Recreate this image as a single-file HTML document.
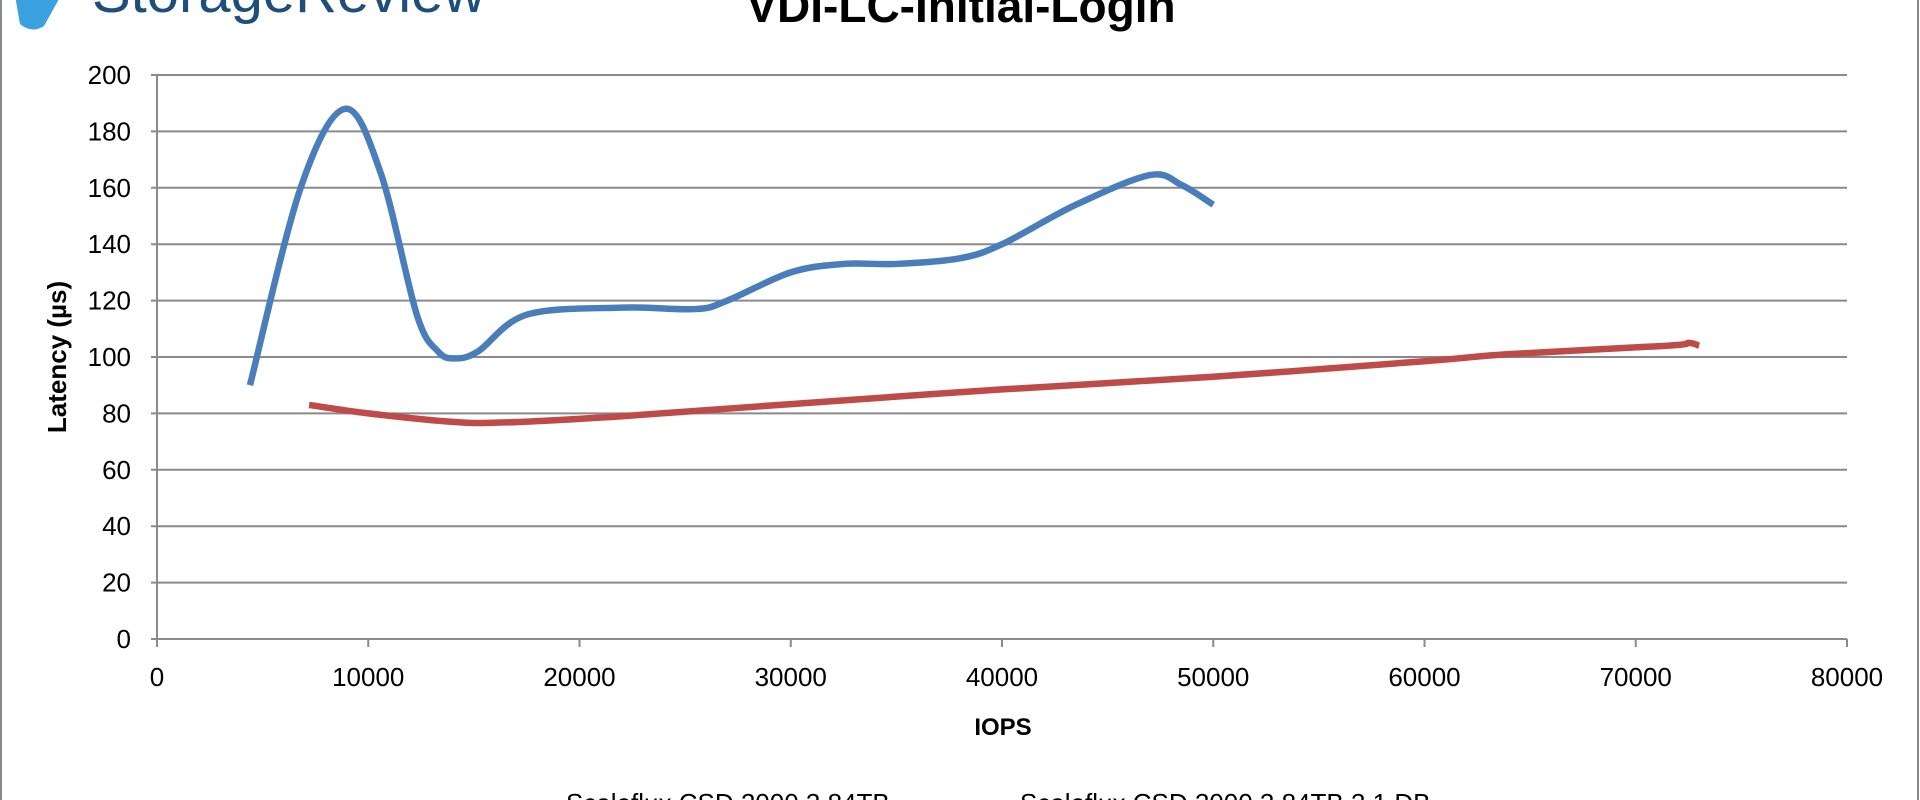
<!DOCTYPE html>
<html><head><meta charset="utf-8"><style>
html,body{margin:0;padding:0;background:#fff;width:1920px;height:800px;overflow:hidden}
svg text{font-family:"Liberation Sans",sans-serif}
</style></head><body>
<svg id="s" width="1920" height="800" xmlns="http://www.w3.org/2000/svg">
<rect x="1" y="-5" width="1917" height="810" fill="#fff" stroke="#888" stroke-width="2"/>
<g id="grid"></g>
<text x="961" y="22" text-anchor="middle" font-size="46" font-weight="bold">VDI-LC-Initial-Login</text>
<text x="92" y="12" font-size="58" fill="#1d4f7a">StorageReview</text>
<path d="M14 -10 L64 -10 L44 26 Q32 34 20 24 Z" fill="#3aa0e0"/>
<text x="1003" y="735" text-anchor="middle" font-size="24" font-weight="bold">IOPS</text>
<text transform="translate(66,357) rotate(-90)" text-anchor="middle" font-size="26" font-weight="bold">Latency (µs)</text>
<text x="566" y="812" font-size="26">Scaleflux CSD 2000 3.84TB</text>
<text x="1020" y="812" font-size="26">Scaleflux CSD 2000 3.84TB 3.1 DB</text>
<path id="b" fill="none" stroke="#4a7ebb" stroke-width="6.5" stroke-linejoin="round"/>
<path id="r" fill="none" stroke="#be4b48" stroke-width="6.5" stroke-linejoin="round"/>
</svg>
<script>
var L=157,R=1847,T=75,B=639;
function X(v){return L+v/80000*(R-L)}function Y(v){return B-v/200*(B-T)}
var g='';
for(var i=0;i<=10;i++){var y=Y(i*20);g+='<line x1="'+(L-6)+'" y1="'+y+'" x2="'+R+'" y2="'+y+'" stroke="#8a8a8a" stroke-width="2"/>';
g+='<text x="'+(L-26)+'" y="'+(y+9)+'" text-anchor="end" font-size="26">'+(i*20)+'</text>';}
g+='<line x1="'+L+'" y1="'+T+'" x2="'+L+'" y2="'+B+'" stroke="#8a8a8a" stroke-width="2"/>';
for(var i=0;i<=8;i++){var x=X(i*10000);g+='<line x1="'+x+'" y1="'+B+'" x2="'+x+'" y2="'+(B+8)+'" stroke="#8a8a8a" stroke-width="2"/>';
g+='<text x="'+x+'" y="'+(B+47)+'" text-anchor="middle" font-size="26">'+(i*10000)+'</text>';}
document.getElementById('grid').innerHTML=g;
function cr(p){var q=p.map(function(a){return[X(a[0]),Y(a[1])]});var d='M'+q[0][0]+' '+q[0][1];
for(var i=0;i<q.length-1;i++){var p0=q[i-1]||q[i],p1=q[i],p2=q[i+1],p3=q[i+2]||p2;
d+=' C'+(p1[0]+(p2[0]-p0[0])/6)+' '+(p1[1]+(p2[1]-p0[1])/6)+' '+(p2[0]-(p3[0]-p1[0])/6)+' '+(p2[1]-(p3[1]-p1[1])/6)+' '+p2[0]+' '+p2[1];}return d;}
document.getElementById('b').setAttribute('d',cr([[4400,90],[6800,160],[8900,188],[10600,165],[12300,115],[13300,102],[14100,99.5],[15200,102],[17500,115],[22000,117.5],[25500,117],[27000,120],[30000,130],[32500,133],[35000,133],[38000,135],[40000,140],[43500,154],[47000,164.5],[48500,161],[50000,154]]));
document.getElementById('r').setAttribute('d',cr([[7200,83],[10000,80],[14000,77],[16500,76.8],[22000,79],[30000,83.3],[40000,88.5],[50000,93],[60000,98.5],[64000,101],[71500,104],[72500,105],[73000,104]]));
</script>
</body></html>
